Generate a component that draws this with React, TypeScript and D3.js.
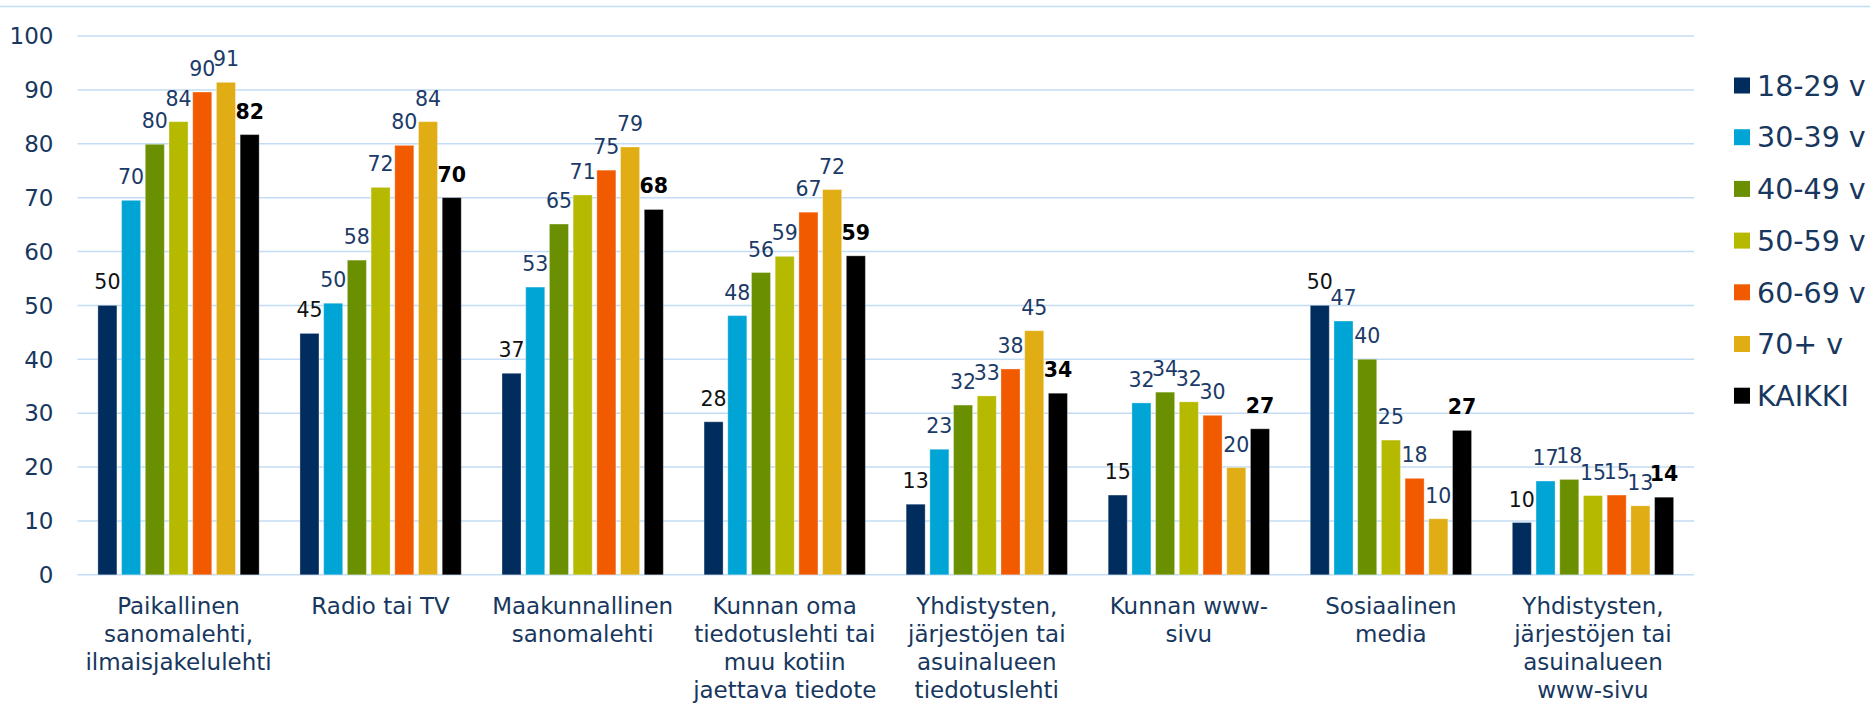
import React from "react";
import * as d3 from "d3";

const categories: string[][] = [
  ["Paikallinen", "sanomalehti,", "ilmaisjakelulehti"],
  ["Radio tai TV"],
  ["Maakunnallinen", "sanomalehti"],
  ["Kunnan oma", "tiedotuslehti tai", "muu kotiin", "jaettava tiedote"],
  ["Yhdistysten,", "järjestöjen tai", "asuinalueen", "tiedotuslehti"],
  ["Kunnan www-", "sivu"],
  ["Sosiaalinen", "media"],
  ["Yhdistysten,", "järjestöjen tai", "asuinalueen", "www-sivu"],
];

const seriesNames = ["18-29 v", "30-39 v", "40-49 v", "50-59 v", "60-69 v", "70+ v", "KAIKKI"];
const seriesColors = ["#002D5E", "#00A5D5", "#6A8F00", "#B5BA00", "#F25A00", "#E1AD15", "#000000"];
const labelColors = ["#111111", "#1B3A68", "#1B3A68", "#1B3A68", "#1B3A68", "#1B3A68", "#000000"];

const s1829 = [50.0, 44.8, 37.4, 28.4, 13.1, 14.8, 50.0, 9.7];
const s3039 = [69.5, 50.4, 53.4, 48.1, 23.3, 31.9, 47.1, 17.4];
const s4049 = [79.9, 58.4, 65.1, 56.1, 31.5, 33.9, 40.0, 17.7];
const s5059 = [84.1, 71.9, 70.5, 59.1, 33.2, 32.1, 25.0, 14.7];
const s6069 = [89.6, 79.7, 75.1, 67.3, 38.2, 29.6, 17.9, 14.8];
const s70 = [91.4, 84.1, 79.4, 71.5, 45.3, 19.9, 10.4, 12.8];
const sAll = [81.7, 70.0, 67.8, 59.2, 33.7, 27.1, 26.8, 14.4];
const seriesValues = [s1829, s3039, s4049, s5059, s6069, s70, sAll];

const yTicks = [0, 10, 20, 30, 40, 50, 60, 70, 80, 90, 100];

const W = 1870;
const H = 706;
const FONT = "'DejaVu Sans', Verdana, sans-serif";
const NAVY = "#17375E";
const GRID = "#C3DCF5";

export default function App() {
  const plotLeft = 77.5;
  const plotRight = 1694;
  const y = d3.scaleLinear().domain([0, 100]).range([574.8, 36]);
  const x0 = d3
    .scaleBand<number>()
    .domain(categories.map((_, i) => i))
    .range([plotLeft, plotRight])
    .padding(0);
  const x1 = d3
    .scaleBand<number>()
    .domain(seriesNames.map((_, i) => i))
    .range([0, x0.bandwidth()])
    .paddingInner(0.198)
    .paddingOuter(0.86);
  const fmt = d3.format(".0f");

  return (
    <svg
      width={W}
      height={H}
      style={{ position: "absolute", left: 0, top: 0, background: "#fff" }}
      fontFamily={FONT}
    >
      <line x1={0} x2={W} y1={6.5} y2={6.5} stroke={GRID} strokeWidth={1.5} />
      {yTicks.map((t) => (
        <g key={t}>
          <line x1={plotLeft} x2={plotRight} y1={y(t)} y2={y(t)} stroke={GRID} strokeWidth={1.5} />
          <text
            x={53.5}
            y={y(t)}
            dy="0.36em"
            textAnchor="end"
            fontSize={23}
            fill={NAVY}
          >
            {t}
          </text>
        </g>
      ))}
      {categories.map((lines, ci) => (
        <g key={ci} transform={`translate(${x0(ci)},0)`}>
          {seriesValues.map((vals, si) => {
            const v = vals[ci];
            const bx = x1(si) as number;
            const bw = x1.bandwidth();
            return (
              <g key={si}>
                <rect
                  x={bx}
                  y={y(v)}
                  width={bw}
                  height={y(0) - y(v)}
                  fill={seriesColors[si]}
                  stroke="#ffffff"
                  strokeOpacity={0.3}
                  strokeWidth={1}
                />
                <text
                  x={bx + bw / 2}
                  y={y(v) - 16}
                  textAnchor="middle"
                  fontSize={20.5}
                  fontWeight={si === 6 ? "bold" : "normal"}
                  fill={labelColors[si]}
                >
                  {fmt(v)}
                </text>
              </g>
            );
          })}
          {lines.map((ln, li) => (
            <text
              key={li}
              x={x0.bandwidth() / 2}
              y={614 + li * 28}
              textAnchor="middle"
              fontSize={23}
              fill={NAVY}
            >
              {ln}
            </text>
          ))}
        </g>
      ))}
      {seriesNames.map((name, si) => {
        const cy = 85.5 + si * 51.7;
        return (
          <g key={name}>
            <rect x={1734} y={cy - 8} width={16} height={16} fill={seriesColors[si]} />
            <text x={1757} y={cy} dy="0.36em" fontSize={28.5} fill={NAVY}>
              {name}
            </text>
          </g>
        );
      })}
    </svg>
  );
}
